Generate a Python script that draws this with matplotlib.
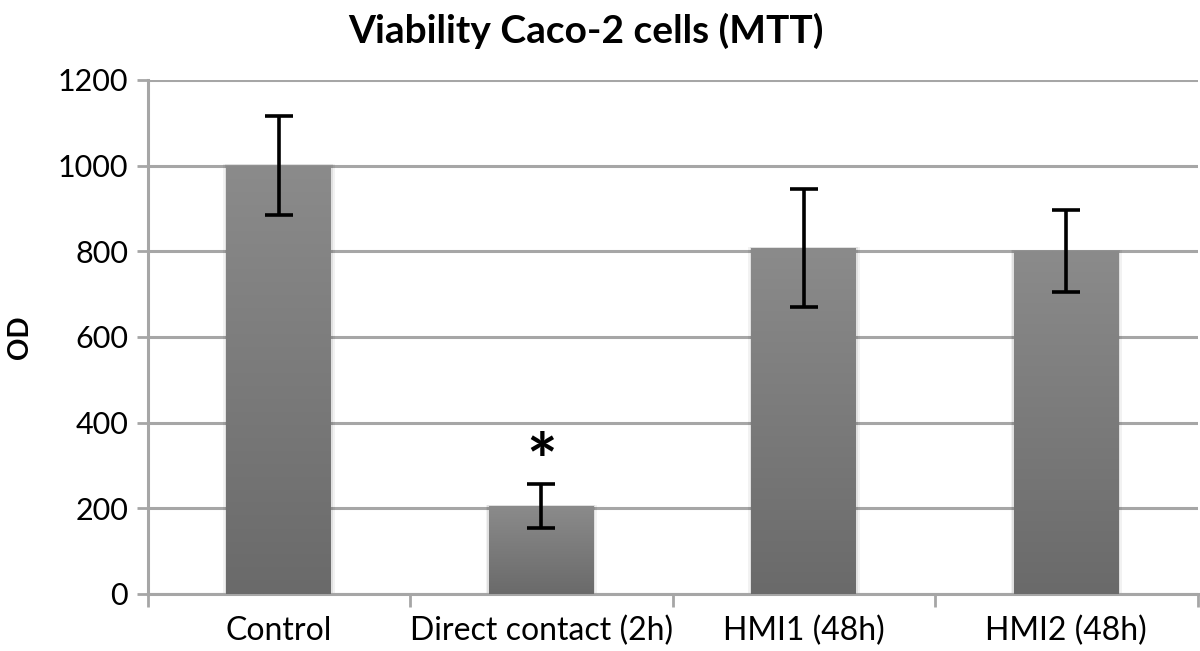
import numpy as np
import matplotlib.pyplot as plt
from matplotlib.patches import Rectangle
from matplotlib.colors import LinearSegmentedColormap

plt.rcParams['font.family'] = ['Lato', 'DejaVu Sans']

categories = ['Control', 'Direct contact (2h)', 'HMI1 (48h)', 'HMI2 (48h)']
od_mean = [1000, 205, 808, 800]
od_err = [115, 52, 137, 96]
significant = [False, True, False, False]
yticks = [0, 200, 400, 600, 800, 1000, 1200]

fig = plt.figure(figsize=(12, 6.51), dpi=100)
ax = fig.add_axes([0.123, 0.0876, 0.875, 0.7896])

x = np.arange(len(categories))
width = 0.4

# gradient fill, lighter at top
grad = np.linspace(0, 1, 256).reshape(-1, 1)
cmap = LinearSegmentedColormap.from_list('g', ['#6a6a6a', '#8b8b8b'])
for xi, h in zip(x, od_mean):
    # soft shadow around the bar
    for k, a in [(0.012, 0.05), (0.006, 0.07)]:
        ax.add_patch(Rectangle((xi - width / 2 - k, 0), width + 2 * k, h + 3,
                               facecolor='#000000', alpha=a, edgecolor='none', zorder=2))
    r = Rectangle((xi - width / 2, 0), width, h, facecolor='none', edgecolor='none', zorder=3)
    ax.add_patch(r)
    im = ax.imshow(grad, cmap=cmap, origin='lower', aspect='auto',
                   extent=(xi - width / 2, xi + width / 2, 0, h), zorder=3)
    im.set_clip_path(r)

ax.errorbar(x, od_mean, yerr=od_err, fmt='none', ecolor='black', elinewidth=2.6,
            capsize=10, capthick=2.6, zorder=4)

for xi, h, e, s in zip(x, od_mean, od_err, significant):
    if s:
        ax.text(xi, h + e + 40, '*', ha='center', va='center', fontsize=52,
                fontweight='bold', zorder=5)

ax.set_xlim(-0.5, len(categories) - 0.5)
ax.set_ylim(0, 1200)
ax.set_yticks(yticks)
ax.set_yticklabels([str(t) for t in yticks], fontsize=22)
ax.yaxis.grid(True, color='#a6a6a6', linewidth=2.2, zorder=0)
ax.set_axisbelow(True)

ax.set_xticks(np.arange(len(categories) + 1) - 0.5)
ax.set_xticklabels([])
ax.set_xticks(x, minor=True)
ax.set_xticklabels(categories, minor=True, fontsize=23)
ax.tick_params(axis='x', which='major', length=9, width=2, color='#a6a6a6')
ax.tick_params(axis='x', which='minor', length=0, pad=16)
ax.tick_params(axis='y', length=8, width=2, color='#a6a6a6', pad=6)

for s in ['top', 'right']:
    ax.spines[s].set_visible(False)
for s in ['left', 'bottom']:
    ax.spines[s].set_color('#a6a6a6')
    ax.spines[s].set_linewidth(2.2)

ax.set_ylabel('OD', fontsize=20, fontweight='bold', labelpad=18)
fig.text(0.488, 0.952, 'Viability Caco-2 cells (MTT)', ha='center', va='center',
         fontsize=28, fontweight='bold')

plt.savefig('out.png', dpi=100)
